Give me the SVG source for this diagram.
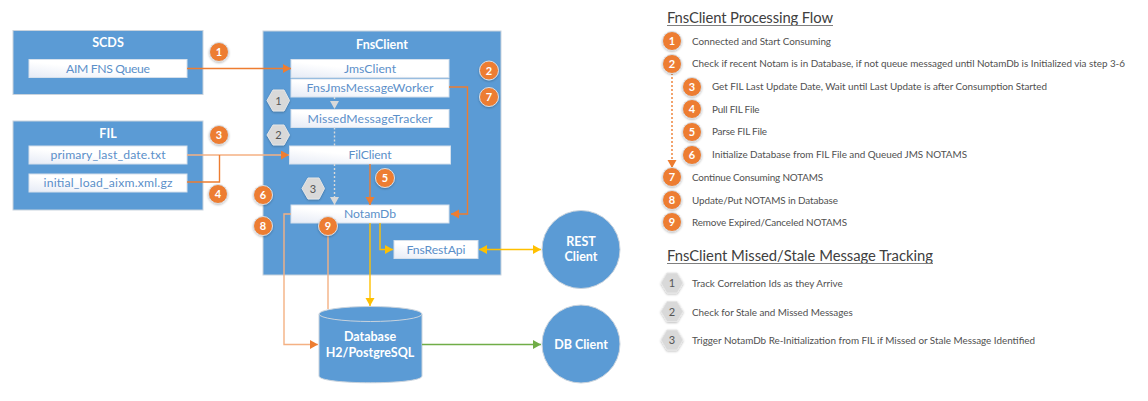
<svg xmlns="http://www.w3.org/2000/svg" width="1148" height="401" viewBox="0 0 1148 401">
<style>
text{font-family:Lato,"Liberation Sans",sans-serif}
.box{fill:#5b9bd5;stroke:#c9d3dd;stroke-width:1}
.t{fill:#fff;font-weight:700;font-size:12.5px;text-anchor:middle}
.in{fill:url(#g);stroke:#d5e0ec;stroke-width:1}
.it{fill:#5b8fc9;font-size:12.2px;text-anchor:middle}
.b circle{fill:#ed7d31;stroke:#d9dfe6;stroke-width:1;filter:url(#s)}
.b text{fill:#fff;font-size:11px;font-weight:700;text-anchor:middle}
.h polygon{fill:#d9d9d9;stroke:#e6e6e6;filter:url(#s)}
.h text{fill:#555;font-size:11px;text-anchor:middle}
.l{fill:#505050;font-size:9.9px}
.hd{fill:#404040;font-size:14.8px}
.u{stroke:#7f7f7f;stroke-width:1.2}
.c{fill:none;stroke-width:1.4}
.o{stroke:#ed7d31}.lo{stroke:#f4b183}.y{stroke:#ffc000}.gn{stroke:#70ad47}.w{stroke:#d9d9d9;stroke-dasharray:2 2}
</style>
<defs>
<linearGradient id="g" x1="0" y1="1" x2="1" y2="0"><stop offset="0" stop-color="#e6ebf6"/><stop offset=".45" stop-color="#fff"/></linearGradient>
<filter id="s" x="-30%" y="-30%" width="160%" height="160%"><feDropShadow dx="0" dy="1" stdDeviation="1" flood-color="#000" flood-opacity=".25"/></filter>
<marker id="ao" markerWidth="10" markerHeight="10" refX="8" refY="4.500" orient="auto" markerUnits="userSpaceOnUse"><path d="M0 0L8 4.500L0 9z" fill="#ed7d31"/></marker>
<marker id="ay" markerWidth="10" markerHeight="10" refX="8" refY="4.500" orient="auto-start-reverse" markerUnits="userSpaceOnUse"><path d="M0 0L8 4.500L0 9z" fill="#ffc000"/></marker>
<marker id="ag" markerWidth="10" markerHeight="10" refX="8" refY="4.500" orient="auto" markerUnits="userSpaceOnUse"><path d="M0 0L8 4.500L0 9z" fill="#70ad47"/></marker>
<marker id="aw" markerWidth="10" markerHeight="10" refX="8" refY="4.500" orient="auto" markerUnits="userSpaceOnUse"><path d="M0 0L8 4.500L0 9z" fill="#d9d9d9"/></marker>
</defs>
<g id="scds"><rect class="box" x="13" y="30.500" width="190" height="64"/><text class="t" x="108" y="47">SCDS</text>
<rect class="in" x="29" y="59.500" width="158" height="18"/><text class="it" x="108" y="72.500" textLength="84">AIM FNS Queue</text></g>
<g id="fil"><rect class="box" x="13" y="121" width="190" height="89"/><text class="t" x="108" y="138">FIL</text>
<rect class="in" x="29" y="146" width="158" height="18"/><text class="it" x="108" y="159" textLength="115">primary_last_date.txt</text>
<rect class="in" x="29" y="174" width="158" height="18"/><text class="it" x="108" y="187" textLength="129">initial_load_aixm.xml.gz</text></g>
<g id="fnsclient"><rect class="box" x="263" y="31" width="238" height="244"/><text class="t" x="382" y="49">FnsClient</text></g>
<g id="jmsclient"><rect class="in" x="291" y="59.500" width="158" height="18"/><text class="it" x="370" y="72.500" textLength="52">JmsClient</text></g>
<g id="worker"><rect class="in" x="291" y="79" width="158" height="18"/><text class="it" x="370" y="92" textLength="127">FnsJmsMessageWorker</text></g>
<g id="tracker"><rect class="in" x="291" y="109.500" width="158" height="18"/><text class="it" x="370" y="123" textLength="125">MissedMessageTracker</text></g>
<g id="filclient"><rect class="in" x="289.500" y="146" width="161" height="18"/><text class="it" x="370" y="159" textLength="43">FilClient</text></g>
<g id="notamdb"><rect class="in" x="291" y="205" width="158" height="18"/><text class="it" x="370" y="218" textLength="52">NotamDb</text></g>
<g id="restapi"><rect class="in" x="394" y="240.500" width="84" height="18"/><text class="it" x="436" y="253.500" textLength="59">FnsRestApi</text></g>
<g id="restclient"><circle cx="581" cy="249.500" r="39" fill="#5b9bd5" stroke="#c9d3dd"/><text class="t" x="581" y="246">REST</text><text class="t" x="581" y="261">Client</text></g>
<g id="dbclient"><circle cx="581" cy="344" r="39" fill="#5b9bd5" stroke="#c9d3dd"/><text class="t" x="581" y="348.500">DB Client</text></g>
<g id="database"><path d="M319 314V376C319 385 422 385 422 376V314z" fill="#5b9bd5" stroke="#c9d3dd"/><ellipse cx="370.500" cy="314" rx="51.500" ry="7.500" fill="#5b9bd5" stroke="#c9d3dd"/><text class="t" x="370" y="341">Database</text><text class="t" x="370" y="357">H2/PostgreSQL</text></g>
<g id="connectors">
<path class="c o" d="M187 68.500H291" marker-end="url(#ao)"/>
<path class="c lo" d="M187 155H289" marker-end="url(#ao)"/>
<path class="c o" d="M187 182H219.500V155"/>
<path class="c o" d="M449 87H467.500V214H451" marker-end="url(#ao)"/>
<path class="c o" d="M370 164V205" marker-end="url(#ao)"/>
<path class="c w" d="M334.500 97V109" marker-end="url(#aw)"/>
<path class="c w" d="M334.500 127.500V146"/>
<path class="c w" d="M334.500 164V205" marker-end="url(#aw)"/>
<path class="c lo" d="M291 214H284V344.500H318" marker-end="url(#ao)"/>
<path class="c lo" d="M328 236V309"/>
<path class="c y" d="M370 223V306" marker-end="url(#ay)"/>
<path class="c y" d="M380 223V249.500H393" marker-end="url(#ay)"/>
<path class="c y" d="M479 249.500H541" marker-start="url(#ay)" marker-end="url(#ay)"/>
<path class="c gn" d="M422 344.500H541" marker-end="url(#ag)"/>
<path class="c o" stroke-dasharray="2 2" d="M672 73V168" marker-end="url(#ao)"/>
</g>
<g id="badges" class="b">
<g><circle cx="219" cy="52" r="9.500"/><text x="219" y="56">1</text></g>
<g><circle cx="219" cy="135" r="9.500"/><text x="219" y="139">3</text></g>
<g><circle cx="218" cy="194" r="9.500"/><text x="218" y="198">4</text></g>
<g><circle cx="489" cy="70.500" r="9.500"/><text x="489" y="74.500">2</text></g>
<g><circle cx="489" cy="97" r="9.500"/><text x="489" y="101">7</text></g>
<g><circle cx="385" cy="178" r="9.500"/><text x="385" y="182">5</text></g>
<g><circle cx="263" cy="195" r="9.500"/><text x="263" y="199">6</text></g>
<g><circle cx="263" cy="226" r="9.500"/><text x="263" y="230">8</text></g>
<g><circle cx="328" cy="226" r="9.500"/><text x="328" y="230">9</text></g>
<g><circle cx="672" cy="41" r="9.500"/><text x="672" y="45">1</text></g>
<g><circle cx="672" cy="64" r="9.500"/><text x="672" y="68">2</text></g>
<g><circle cx="692" cy="87" r="9.500"/><text x="692" y="91">3</text></g>
<g><circle cx="692" cy="109" r="9.500"/><text x="692" y="113">4</text></g>
<g><circle cx="692" cy="132" r="9.500"/><text x="692" y="136">5</text></g>
<g><circle cx="692" cy="155" r="9.500"/><text x="692" y="159">6</text></g>
<g><circle cx="672" cy="177" r="9.500"/><text x="672" y="181">7</text></g>
<g><circle cx="672" cy="200" r="9.500"/><text x="672" y="204">8</text></g>
<g><circle cx="672" cy="222" r="9.500"/><text x="672" y="226">9</text></g>
</g>
<g id="hexes" class="h">
<g><polygon points="267,100.500 273,90 284,90 289.500,100.500 284,111 273,111"/><text x="278.500" y="104.500">1</text></g>
<g><polygon points="267,135 273,125 284,125 289.500,135 284,145 273,145"/><text x="278.500" y="139">2</text></g>
<g><polygon points="302,188.500 308,178 319,178 324.500,188.500 319,199 308,199"/><text x="313" y="192.500">3</text></g>
<g><polygon points="661,283 667,273 677,273 683,283 677,293 667,293"/><text x="672" y="287">1</text></g>
<g><polygon points="661,311.500 667,301.500 677,301.500 683,311.500 677,321.500 667,321.500"/><text x="672" y="315.500">2</text></g>
<g><polygon points="661,340 667,330 677,330 683,340 677,350 667,350"/><text x="672" y="344">3</text></g>
</g>
<g id="legend">
<text class="hd" x="667" y="23" textLength="166">FnsClient Processing Flow</text><path class="u" d="M667 25.500H833"/>
<text class="l" x="692" y="44.500" textLength="139">Connected and Start Consuming</text>
<text class="l" x="692" y="67" textLength="433">Check if recent Notam is in Database, if not queue messaged until NotamDb is Initialized via step 3-6</text>
<text class="l" x="712" y="90" textLength="335">Get FIL Last Update Date, Wait until Last Update is after Consumption Started</text>
<text class="l" x="712" y="112.500" textLength="47.500">Pull FIL File</text>
<text class="l" x="712" y="135" textLength="55">Parse FIL File</text>
<text class="l" x="712" y="158" textLength="255">Initialize Database from FIL File and Queued JMS NOTAMS</text>
<text class="l" x="692" y="181" textLength="131">Continue Consuming NOTAMS</text>
<text class="l" x="692" y="203.500" textLength="146">Update/Put NOTAMS in Database</text>
<text class="l" x="692" y="226" textLength="155">Remove Expired/Canceled NOTAMS</text>
<text class="hd" x="667" y="261" textLength="266">FnsClient Missed/Stale Message Tracking</text><path class="u" d="M667 263.500H933"/>
<text class="l" x="692" y="286.500" textLength="150.700">Track Correlation Ids as they Arrive</text>
<text class="l" x="692" y="315.500" textLength="160.700">Check for Stale and Missed Messages</text>
<text class="l" x="692" y="344" textLength="343">Trigger NotamDb Re-Initialization from FIL if Missed or Stale Message Identified</text>
</g>
</svg>
